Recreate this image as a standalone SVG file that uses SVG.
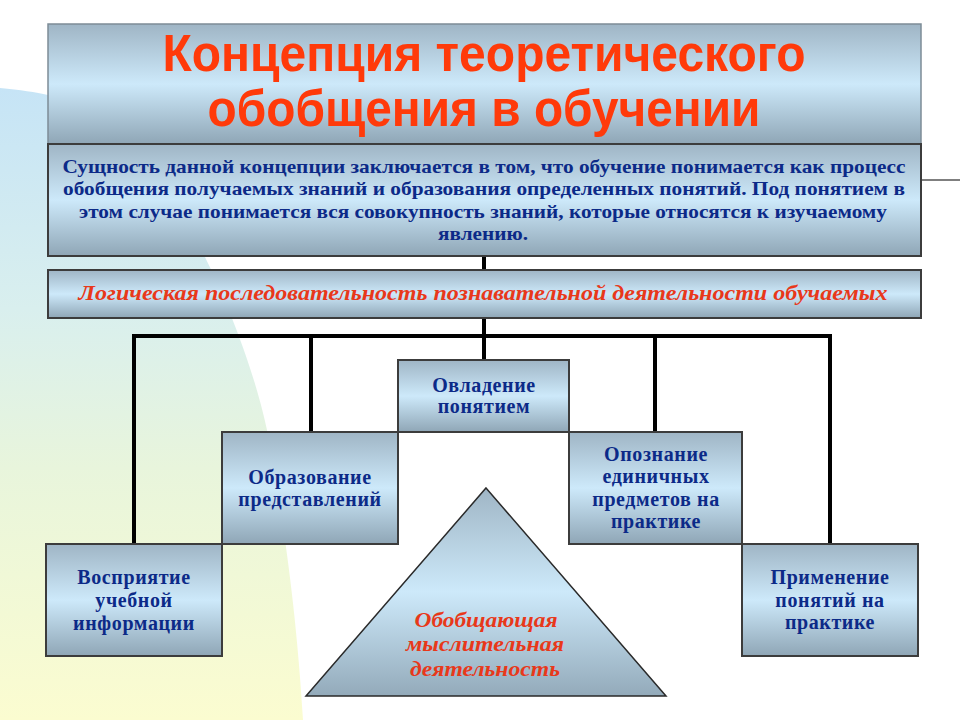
<svg xmlns="http://www.w3.org/2000/svg" width="960" height="720" viewBox="0 0 960 720">
<defs>
<linearGradient id="bg" x1="0" y1="0" x2="0" y2="1">
<stop offset="0" stop-color="#c6e4f6"/>
<stop offset="0.35" stop-color="#d9efee"/>
<stop offset="0.6" stop-color="#e8f5dc"/>
<stop offset="1" stop-color="#fbfcd0"/>
</linearGradient>
<linearGradient id="boxg" x1="0" y1="0" x2="0" y2="1">
<stop offset="0" stop-color="#9fb5c5"/>
<stop offset="0.5" stop-color="#cde9fa"/>
<stop offset="1" stop-color="#8fa6b6"/>
</linearGradient>
<linearGradient id="trig" x1="0" y1="0" x2="0" y2="1">
<stop offset="0" stop-color="#9fb5c5"/>
<stop offset="0.5" stop-color="#cde9fa"/>
<stop offset="1" stop-color="#93aaba"/>
</linearGradient>
</defs>
<style>
.box{fill:url(#boxg);stroke:#3c3c3c;stroke-width:2}
.tbox{fill:url(#boxg);stroke:#7d8c97;stroke-width:1.5}
.tri{fill:url(#trig);stroke:#2a2a2a;stroke-width:1.5}
.conn{fill:none;stroke:#000;stroke-width:4;stroke-linecap:square}
.thin{fill:none;stroke:#000;stroke-width:1.2}
.title{font-family:"Liberation Sans",Arial,sans-serif;font-weight:bold;font-size:52px;fill:#ff3a0a;text-anchor:middle}
.sum{font-family:"Liberation Serif","Times New Roman",serif;font-weight:bold;font-size:19px;fill:#0c2a88;text-anchor:middle}
.node{font-family:"Liberation Serif","Times New Roman",serif;font-weight:bold;font-size:20px;letter-spacing:0.6px;fill:#0c2a88;text-anchor:middle}
.red{font-family:"Liberation Serif","Times New Roman",serif;font-weight:bold;font-style:italic;font-size:21px;fill:#e8381a;text-anchor:middle}
</style>
<rect x="0" y="0" width="960" height="720" fill="#ffffff"/>
<path d="M0,88 C20,90 36,92 48,95 C120,110 178,185 205,257 C222,292 252,360 267,430 C280,500 296,600 303,720 L0,720 Z" fill="url(#bg)"/>

<g id="connectors">
<line class="thin" x1="921" y1="180" x2="960" y2="180"/>
<line class="conn" x1="484" y1="256" x2="484" y2="270"/>
<line class="conn" x1="484" y1="318" x2="484" y2="360"/>
<polyline class="conn" points="134,544 134,336 830,336 830,544"/>
<line class="conn" x1="311" y1="336" x2="311" y2="432"/>
<line class="conn" x1="655" y1="336" x2="655" y2="432"/>
</g>

<g id="title">
<rect class="tbox" x="48" y="24" width="873" height="120"/>
<text class="title" x="484" y="71" textLength="643" lengthAdjust="spacingAndGlyphs">Концепция теоретического</text>
<text class="title" x="484" y="126" textLength="553" lengthAdjust="spacingAndGlyphs">обобщения в обучении</text>
</g>

<g id="summary">
<rect class="box" x="48" y="144" width="873" height="112"/>
<text class="sum" x="484" y="173" textLength="843" lengthAdjust="spacingAndGlyphs">Сущность данной концепции заключается в том, что обучение понимается как процесс</text>
<text class="sum" x="484" y="195" textLength="842" lengthAdjust="spacingAndGlyphs">обобщения получаемых знаний и образования определенных понятий. Под понятием в</text>
<text class="sum" x="483" y="218" textLength="808" lengthAdjust="spacingAndGlyphs">этом случае понимается вся совокупность знаний, которые относятся к изучаемому</text>
<text class="sum" x="483" y="240" textLength="90" lengthAdjust="spacingAndGlyphs">явлению.</text>
</g>

<g id="logic">
<rect class="box" x="48" y="270" width="873" height="48"/>
<text class="red" x="483" y="300" textLength="809" lengthAdjust="spacingAndGlyphs">Логическая последовательность познавательной деятельности обучаемых</text>
</g>

<g id="ovladenie">
<rect class="box" x="398" y="360" width="171" height="72"/>
<text class="node" x="484" y="392">Овладение</text>
<text class="node" x="484" y="413">понятием</text>
</g>

<g id="obrazovanie">
<rect class="box" x="222" y="432" width="176" height="112"/>
<text class="node" x="310" y="484">Образование</text>
<text class="node" x="310" y="506">представлений</text>
</g>

<g id="opoznanie">
<rect class="box" x="569" y="432" width="173" height="112"/>
<text class="node" x="656" y="461">Опознание</text>
<text class="node" x="656" y="483">единичных</text>
<text class="node" x="656" y="506">предметов на</text>
<text class="node" x="656" y="528">практике</text>
</g>

<g id="vospriyatie">
<rect class="box" x="46" y="544" width="176" height="112"/>
<text class="node" x="134" y="584">Восприятие</text>
<text class="node" x="134" y="607">учебной</text>
<text class="node" x="134" y="630">информации</text>
</g>

<g id="primenenie">
<rect class="box" x="742" y="544" width="176" height="112"/>
<text class="node" x="830" y="584">Применение</text>
<text class="node" x="830" y="607">понятий на</text>
<text class="node" x="830" y="629">практике</text>
</g>

<g id="triangle">
<polygon class="tri" points="486,488 666,696 306,696"/>
<text class="red" x="486" y="627" textLength="143" lengthAdjust="spacingAndGlyphs">Обобщающая</text>
<text class="red" x="485" y="651" textLength="158" lengthAdjust="spacingAndGlyphs">мыслительная</text>
<text class="red" x="485" y="676" textLength="150" lengthAdjust="spacingAndGlyphs">деятельность</text>
</g>
</svg>
